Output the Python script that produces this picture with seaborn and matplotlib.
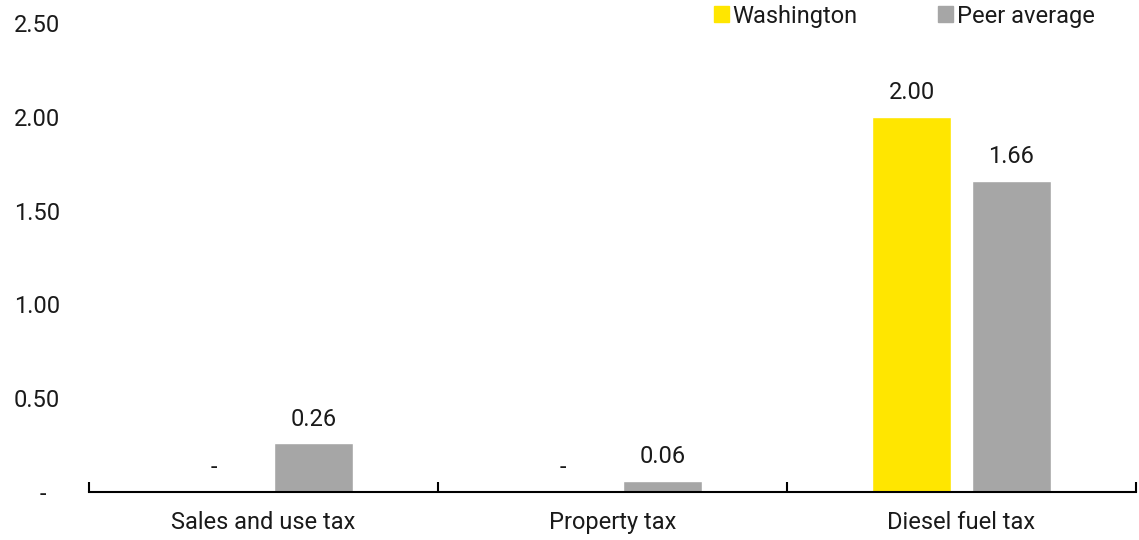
import matplotlib
matplotlib.use("Agg")
import matplotlib.pyplot as plt
import seaborn as sns
import pandas as pd
from matplotlib.ticker import FixedLocator

categories = ["Sales and use tax", "Property tax", "Diesel fuel tax"]
series_names = ["Washington", "Peer average"]
washington = [0.0, 0.0, 2.00]
peer_average = [0.26, 0.06, 1.66]
y_ticks = [0, 0.5, 1.0, 1.5, 2.0, 2.5]
y_tick_labels = ["-\u2007", "0.50", "1.00", "1.50", "2.00", "2.50"]
colors = {"Washington": "#FFE600", "Peer average": "#A6A6A6"}

df = pd.DataFrame({
    "category": categories * 2,
    "series": [series_names[0]] * 3 + [series_names[1]] * 3,
    "value": washington + peer_average,
})

FS = 17

sns.set_theme(style="white")
plt.rcParams["font.family"] = ["Roboto", "DejaVu Sans"]
plt.rcParams["text.color"] = "#1a1a1a"

fig = plt.figure(figsize=(11.39, 5.40), dpi=100)
ax = fig.add_axes([89 / 1139, 48 / 540, 1047 / 1139, 469 / 540])

sns.barplot(data=df, x="category", y="value", hue="series", order=categories,
            hue_order=series_names, palette=colors, width=0.573, gap=0.21,
            saturation=1, ax=ax, legend=False)

for container, vals in zip(ax.containers, [washington, peer_average]):
    labels = ["-" if v == 0 else f"{v:.2f}" for v in vals]
    ax.bar_label(container, labels=labels, padding=9, fontsize=FS, color="#1a1a1a")

ax.set_xlim(-0.5, 2.5)
ax.set_ylim(0, 2.5)
ax.set_yticks(y_ticks)
ax.set_yticklabels(y_tick_labels, fontsize=FS, color="#1a1a1a")
ax.tick_params(axis="y", length=0, pad=21)
ax.tick_params(axis="x", which="major", length=0, pad=14, labelsize=FS, labelcolor="#1a1a1a")
ax.xaxis.set_minor_locator(FixedLocator([-0.5, 0.5, 1.5, 2.5]))
ax.tick_params(axis="x", which="minor", direction="in", length=7, width=1.5, color="black", bottom=True)
ax.set_xlabel("")
ax.set_ylabel("")

for side in ["top", "right", "left"]:
    ax.spines[side].set_visible(False)
ax.spines["bottom"].set_color("black")
ax.spines["bottom"].set_linewidth(1.5)

handles = [plt.Rectangle((0, 0), 1, 1, color=colors[s]) for s in series_names]
fig.legend(handles, series_names, loc="center right", bbox_to_anchor=(1104 / 1139, 1 - 16 / 540),
           ncol=2, frameon=False, fontsize=FS, handlelength=0.65, handleheight=0.65,
           handletextpad=0.15, columnspacing=3.4, borderaxespad=0)

fig.savefig("out.png", dpi=100)
